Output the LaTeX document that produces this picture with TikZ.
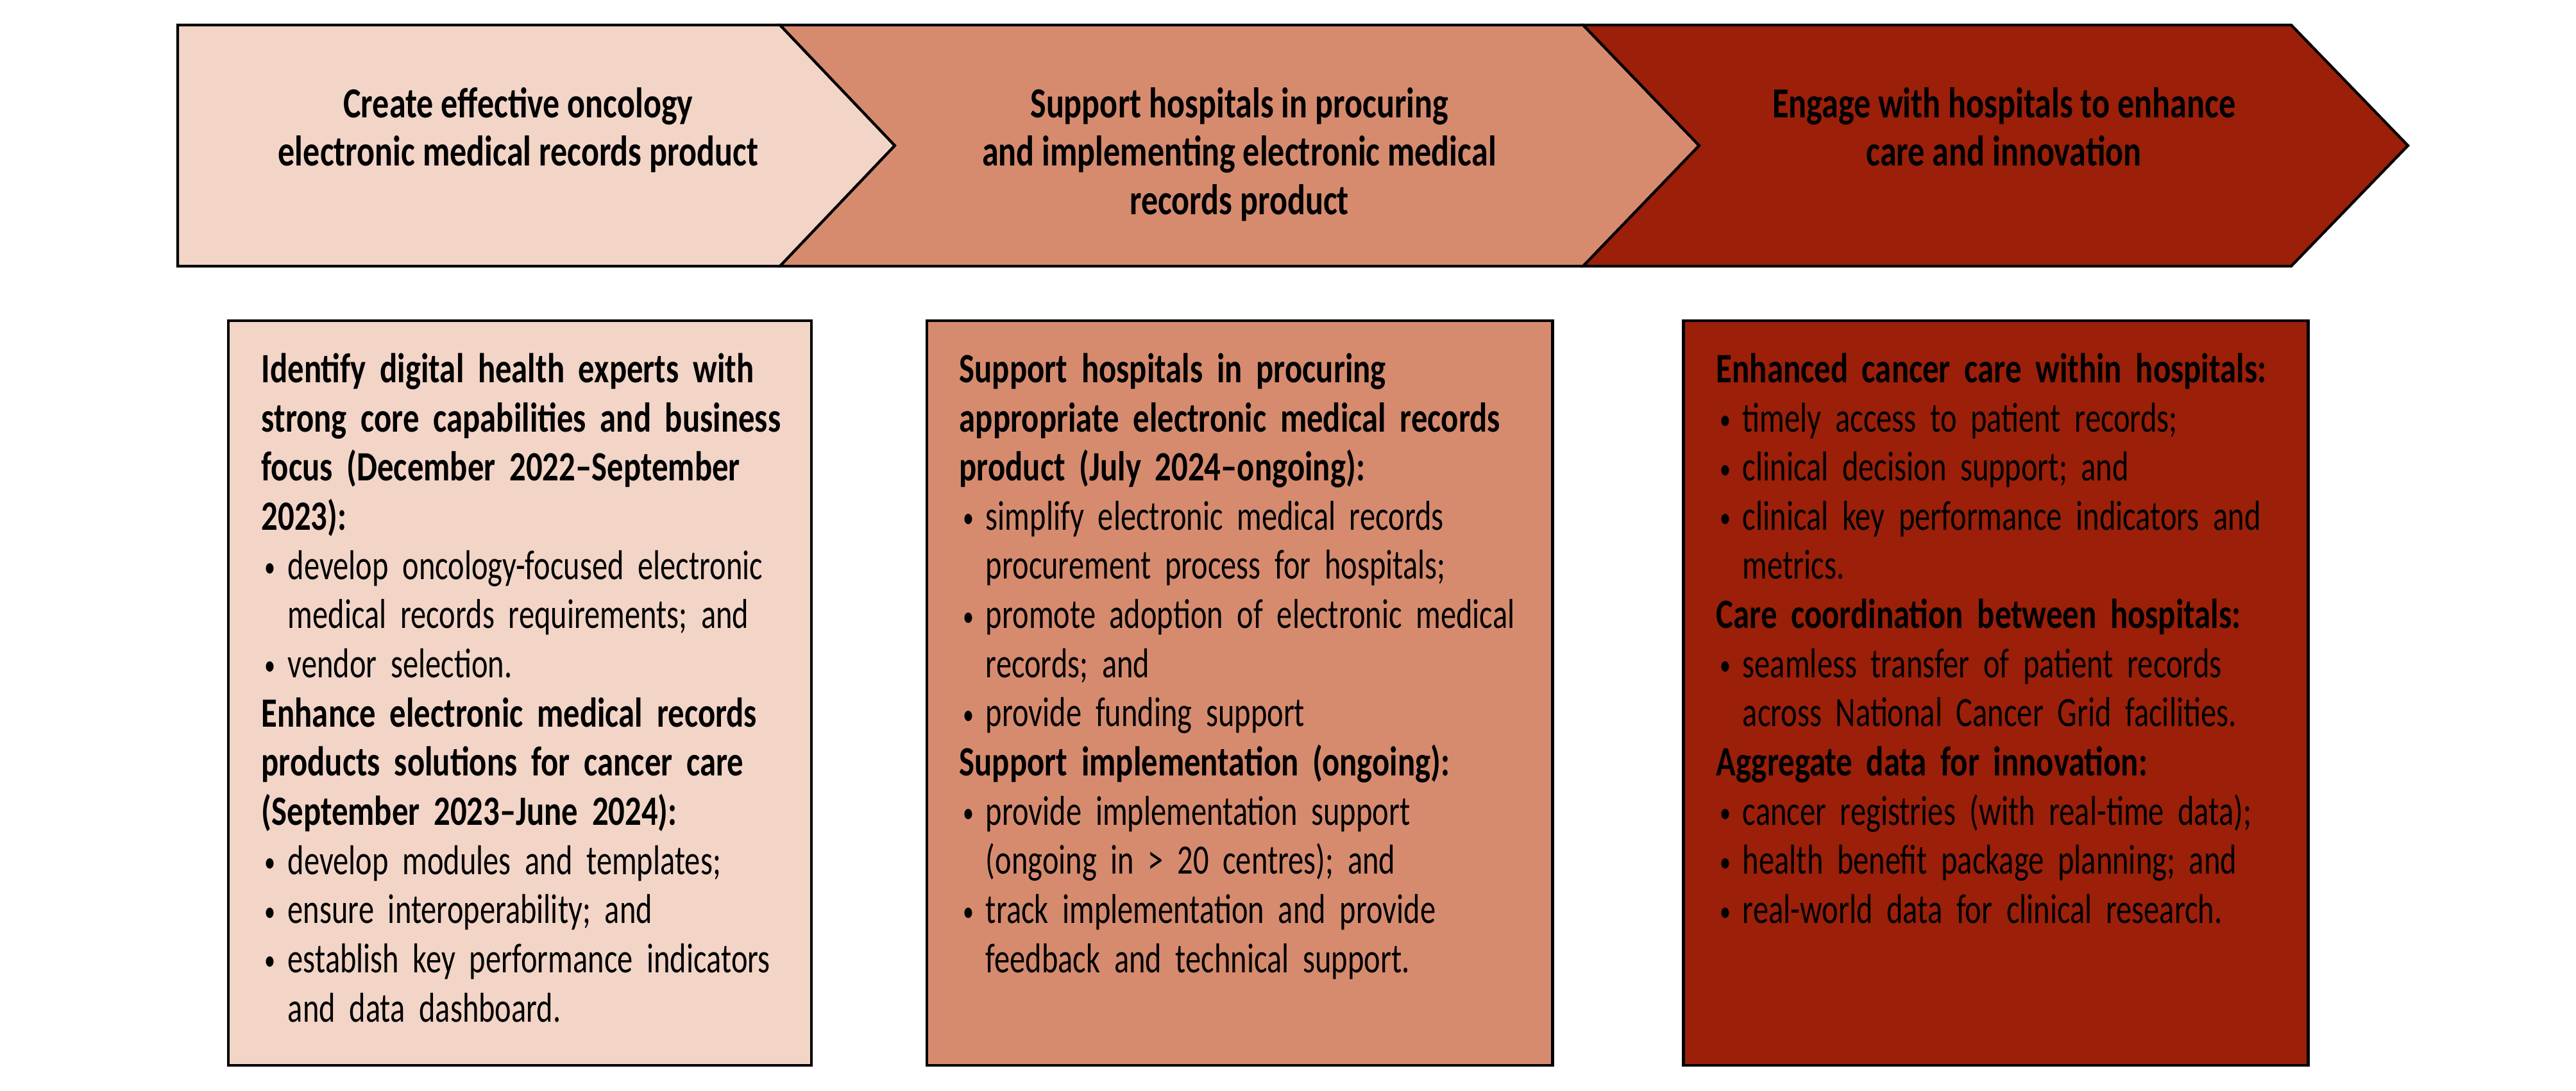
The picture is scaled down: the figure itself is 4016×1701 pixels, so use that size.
\documentclass[tikz,border=0pt]{standalone}
\usepackage{fontspec}
\setmainfont{Carlito}[UprightFeatures={FakeStretch=0.745}, BoldFeatures={FakeStretch=0.78}]
\usetikzlibrary{positioning}

\definecolor{stageone}{HTML}{F2D5C7}
\definecolor{stagetwo}{HTML}{D68B6F}
\definecolor{stagethree}{HTML}{9B1F09}

\hyphenpenalty=10000
\exhyphenpenalty=10000

% bullet line with hanging indent
\newcommand{\bpt}[1]{\par\hangindent=11.7pt\hangafter=1\noindent\makebox[11.7pt][l]{\hspace{1.5pt}\raisebox{1pt}{\fontsize{13}{13}\selectfont\textbullet}}#1}

\begin{document}
\begin{tikzpicture}[x=0.01cm, y=-0.01cm,
    stage/.style = {draw, line width=1.2pt, line join=miter},
    panel/.style = {draw, line width=1.4pt},
    title/.style = {anchor=north, align=center, inner sep=0pt, font=\bfseries\fontsize{19}{21.4}\selectfont},
    body/.style = {anchor=north west, align=left, inner sep=0pt, font=\fontsize{18.5}{21.8}\selectfont}]
    \useasboundingbox (0,0) rectangle (4016,1701);

    % chevrons
    \draw[stage, fill=stageone] (277,39) -- (1216,39) -- (1395,227) -- (1216,415) -- (277,415) -- cycle;
    \draw[stage, fill=stagetwo] (1216,39) -- (2468,39) -- (2649,227) -- (2468,415) -- (1216,415) -- (1395,227) -- cycle;
    \draw[stage, fill=stagethree] (2468,39) -- (3572,39) -- (3754,227) -- (3572,415) -- (2468,415) -- (2649,227) -- cycle;

    \node[title] (title1) at (808,136) {Create effective oncology\\electronic medical records product};
    \node[title] (title2) at (1932,136) {Support hospitals in procuring\\and implementing electronic medical\\records product};
    \node[title] (title3) at (3124,136) {Engage with hospitals to enhance\\care and innovation};

    % panels
    \draw[panel, fill=stageone] (356,500) rectangle (1265,1661);
    \draw[panel, fill=stagetwo] (1445,500) rectangle (2420,1661);
    \draw[panel, fill=stagethree] (2624,500) rectangle (3598,1661);

    \node[body, text width=8.3cm] (detail1) at (407,550) {%
        \textbf{Identify digital health experts with\\strong core capabilities and business\\focus (December 2022--September\\2023):}
        \bpt{develop oncology-focused electronic\newline medical records requirements; and}
        \bpt{vendor selection.}
        \par\textbf{Enhance electronic medical records\\products solutions for cancer care\\(September 2023--June 2024):}
        \bpt{develop modules and templates;}
        \bpt{ensure interoperability; and}
        \bpt{establish key performance indicators\newline and data dashboard.}\par};
    \node[body, text width=8.9cm] (detail2) at (1495,550) {%
        \textbf{Support hospitals in procuring\\appropriate electronic medical records\\product (July 2024--ongoing):}
        \bpt{simplify electronic medical records\newline procurement process for hospitals;}
        \bpt{promote adoption of electronic medical\newline records; and}
        \bpt{provide funding support}
        \par\textbf{Support implementation (ongoing):}
        \bpt{provide implementation support\newline (ongoing in > 20 centres); and}
        \bpt{track implementation and provide\newline feedback and technical support.}\par};
    \node[body, text width=8.9cm] (detail3) at (2675,550) {%
        \textbf{Enhanced cancer care within hospitals:}
        \bpt{timely access to patient records;}
        \bpt{clinical decision support; and}
        \bpt{clinical key performance indicators and\newline metrics.}
        \par\textbf{Care coordination between hospitals:}
        \bpt{seamless transfer of patient records\newline across National Cancer Grid facilities.}
        \par\textbf{Aggregate data for innovation:}
        \bpt{cancer registries (with real-time data);}
        \bpt{health benefit package planning; and}
        \bpt{real-world data for clinical research.}\par};
\end{tikzpicture}
\end{document}
